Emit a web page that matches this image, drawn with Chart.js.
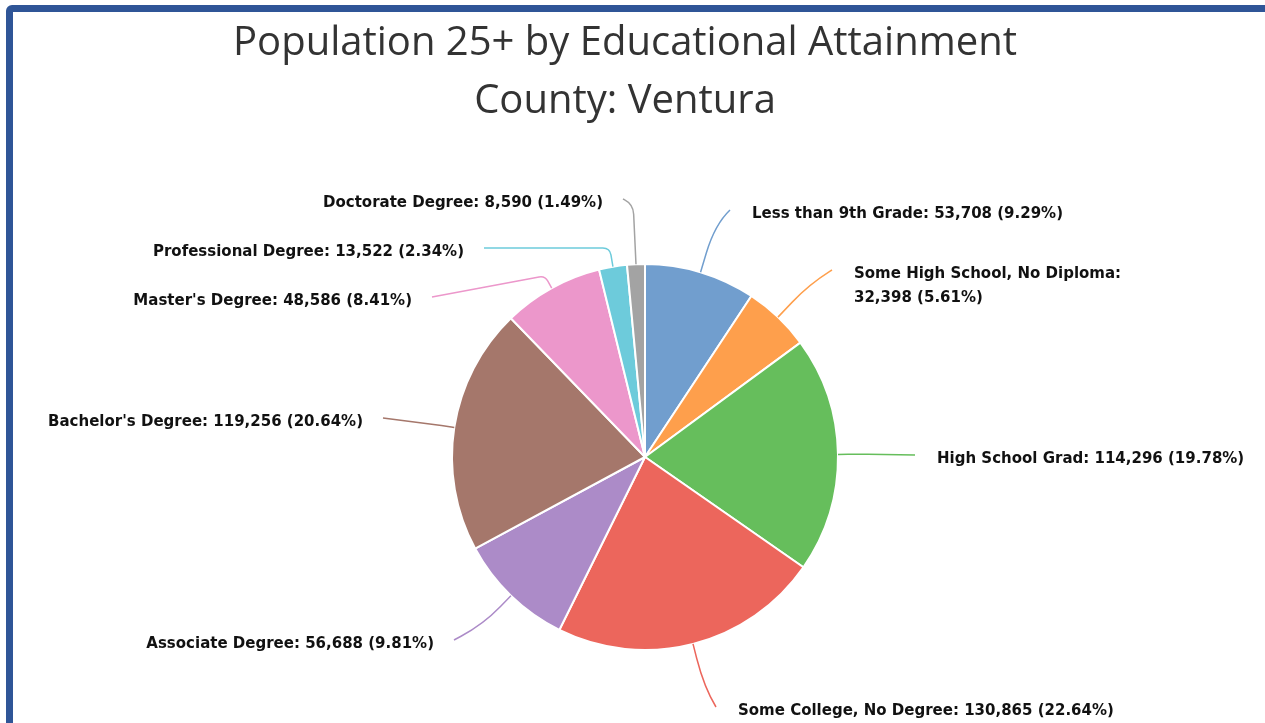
<!DOCTYPE html>
<html>
<head>
<meta charset="utf-8">
<title>Population 25+ by Educational Attainment</title>
<script src="https://cdn.jsdelivr.net/npm/chart.js@4.4.0/dist/chart.umd.min.js"></script>
<style>
    html, body { margin: 0; padding: 0; background: #fff; overflow: hidden; }
    #frame {
        position: absolute; left: 6px; top: 5px;
        width: 1270px; height: 730px;
        border: 7px solid #2f5597; border-radius: 6px;
        box-sizing: border-box;
    }
    #eduChart { position: absolute; left: 0; top: 0; }
</style>
</head>
<body>
<div id="frame"></div>
<canvas id="eduChart" width="1265" height="723"></canvas>
<script>
// Datos: población de 25+ por nivel educativo (Ventura)
const categories = [
    'Less than 9th Grade',
    'Some High School, No Diploma',
    'High School Grad',
    'Some College, No Degree',
    'Associate Degree',
    "Bachelor's Degree",
    "Master's Degree",
    'Professional Degree',
    'Doctorate Degree'
];
const population = [53708, 32398, 114296, 130865, 56688, 119256, 48586, 13522, 8590];

const titleLines = ['Population 25+ by Educational Attainment', 'County: Ventura'];

// Colores de cada porción
const sliceColors = [
    '#719ece', '#fe9f4c', '#66be5c', '#ec665c', '#ac8bc8',
    '#a5776b', '#ec97cb', '#6dcbdb', '#a3a3a3'
];

// Posición de las etiquetas: [dx, dy desde el centro, largo del tramo radial, curva, partir en dos líneas]
const labelLayout = [
    [85, -247, 50, 30, false],
    [187, -187, 45, 25, true],
    [270, -2, 20, 10, false],
    [71, 250, 45, 30, false],
    [-191, 183, 40, 25, false],
    [-262, -39, 8, 5, false],
    [-213, -160, 14, 6, false],
    [-161, -209, 19, 7, false],
    [-22, -258, 60, 10, false]
];

(function () {
    const total = population.reduce((a, b) => a + b, 0);
    const labelFont = 'bold 15px "DejaVu Sans", Verdana, sans-serif';

    function labelParts(i) {
        const num = population[i].toLocaleString('en-US');
        const pct = (population[i] / total * 100).toFixed(2) + '%';
        return [categories[i] + ':', num + ' (' + pct + ')'];
    }

    // El título va un poco a la izquierda del centro del pastel, como en el original
    const chartTitle = {
        id: 'chartTitle',
        afterDraw(chart) {
            const ctx = chart.ctx;
            ctx.save();
            ctx.font = '40px "Open Sans", sans-serif';
            ctx.fillStyle = '#333333';
            ctx.textAlign = 'center';
            ctx.textBaseline = 'middle';
            titleLines.forEach((t, k) => ctx.fillText(t, 625, 44 + k * 58));
            ctx.restore();
        }
    };

    const outsideLabels = {
        id: 'outsideLabels',
        afterDatasetsDraw(chart) {
            const ctx = chart.ctx;
            const arcs = chart.getDatasetMeta(0).data;
            ctx.save();
            arcs.forEach((arc, i) => {
                const p = arc.getProps(['x', 'y', 'startAngle', 'endAngle', 'outerRadius'], true);
                const mid = (p.startAngle + p.endAngle) / 2;
                const dir = { x: Math.cos(mid), y: Math.sin(mid) };
                const a = { x: p.x + dir.x * p.outerRadius, y: p.y + dir.y * p.outerRadius };
                const [dx, dy, leg, corner, wrap] = labelLayout[i];
                const end = { x: p.x + dx, y: p.y + dy };
                const e = { x: a.x + dir.x * leg, y: a.y + dir.y * leg };
                const tx = end.x - e.x, ty = end.y - e.y;
                const len2 = Math.hypot(tx, ty) || 1;
                const c1 = Math.min(corner, leg);
                const c2 = Math.min(corner, len2);

                ctx.beginPath();
                ctx.moveTo(a.x, a.y);
                ctx.lineTo(e.x - dir.x * c1, e.y - dir.y * c1);
                ctx.quadraticCurveTo(e.x, e.y, e.x + tx / len2 * c2, e.y + ty / len2 * c2);
                ctx.lineTo(end.x, end.y);
                ctx.strokeStyle = sliceColors[i];
                ctx.lineWidth = 1.5;
                ctx.stroke();

                // texto
                const right = dx > 0;
                const parts = labelParts(i);
                const lines = wrap ? parts : [parts.join(' ')];
                ctx.font = labelFont;
                ctx.fillStyle = '#111';
                ctx.textAlign = right ? 'left' : 'right';
                ctx.textBaseline = 'middle';
                const x = right ? end.x + 22 : end.x - 20;
                lines.forEach((ln, k) => ctx.fillText(ln, x, end.y + 4 + k * 24));
            });
            ctx.restore();
        }
    };

    const ctx = document.getElementById('eduChart').getContext('2d');
    new Chart(ctx, {
        type: 'pie',
        data: {
            labels: categories,
            datasets: [{
                data: population,
                backgroundColor: sliceColors,
                borderColor: '#ffffff',
                borderWidth: 2,
                hoverOffset: 0
            }]
        },
        options: {
            responsive: false,
            animation: false,
            radius: 193,
            layout: { padding: { left: 25, right: 0, top: 191, bottom: 0 } },
            plugins: {
                legend: { display: false },
                tooltip: { enabled: false },
                title: { display: false }
            }
        },
        plugins: [outsideLabels, chartTitle]
    });
})();
</script>
</body>
</html>
